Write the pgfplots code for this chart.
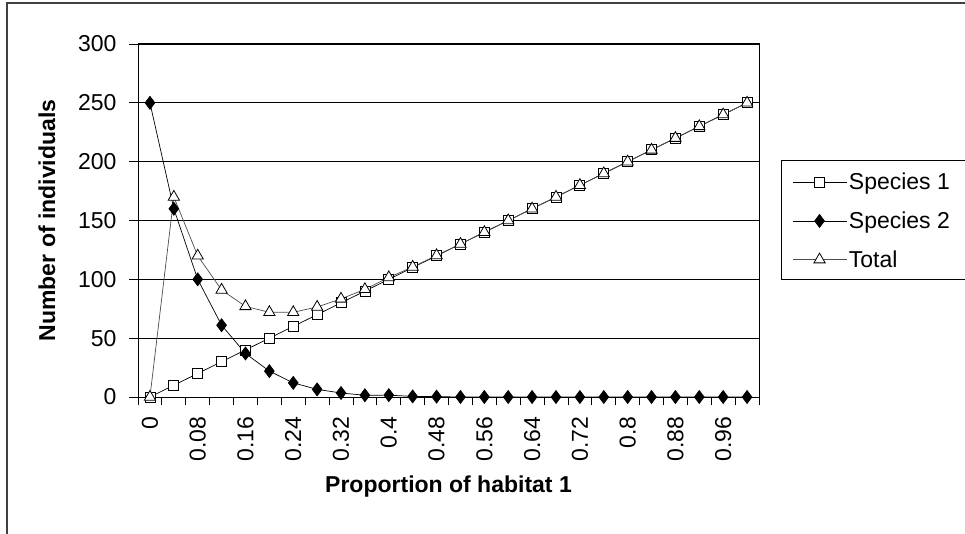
\documentclass[border=0pt]{standalone}
\usepackage{pgfplots}
\usepackage{pgfplotstable}
\pgfplotsset{compat=1.18}
\usepackage{fontspec}
\setmainfont{Liberation Sans}

\pgfplotstableread{
i s1 s2 tot
0 0 250 0
1 10 160 170
2 20 100 120
3 30 61 91
4 40 37 77
5 50 22 72
6 60 12 72
7 70 6.5 76.5
8 80 3.4 83.4
9 90 1.5 91.5
10 100 1.6 101.6
11 110 0.5 110.5
12 120 0.3 120.3
13 130 0 130
14 140 0 140
15 150 0 150
16 160 0 160
17 170 0 170
18 180 0 180
19 190 0 190
20 200 0 200
21 210 0 210
22 220 0 220
23 230 0 230
24 240 0 240
25 250 0 250
}\data

\begin{document}
\begin{tikzpicture}[x=1pt,y=1pt]
\begin{axis}[
  scale only axis, width=621pt, height=353pt,
  at={(138pt,136pt)}, anchor=south west,
  font=\fontsize{23}{27}\selectfont,
  xmin=-0.5, xmax=25.5, ymin=0, ymax=300,
  xtick={0,2,...,24},
  xticklabels={0,0.08,0.16,0.24,0.32,0.4,0.48,0.56,0.64,0.72,0.8,0.88,0.96},
  minor xtick={-0.5,0.5,...,25.5},
  ytick={0,50,...,300},
  tick align=outside, major tick length=9pt, minor tick length=8pt,
  major x tick style={draw=none},
  xtick pos=bottom, ytick pos=left,
  tick style={black, line width=0.8pt},
  ymajorgrids, grid style={black, line width=0.8pt},
  axis line style={black, line width=1pt},
  xticklabel style={rotate=90, anchor=east, font=\fontsize{23}{27}\selectfont},
  yticklabel style={font=\fontsize{23}{27}\selectfont},
  xticklabel shift=7pt, yticklabel shift=9pt,
  /pgf/number format/assume math mode=true,
  xlabel={Proportion of habitat 1},
  ylabel={Number of individuals},
  xlabel style={font=\bfseries\fontsize{23}{27}\selectfont, at={(axis description cs:0.5,-0.255)}, anchor=center},
  ylabel style={font=\bfseries\fontsize{23}{27}\selectfont, at={(axis description cs:-0.1465,0.5)}, anchor=center},
  legend style={at={(rel axis cs:1,1)}, anchor=north west, xshift=33pt, yshift=-127pt,
    draw=none, fill=none, inner sep=0pt, row sep=16.5pt,
    font=\fontsize{23}{27}\selectfont,
    nodes={inner sep=2pt, anchor=west}},
  legend cell align=left,
  legend image code/.code={\draw[mark repeat=2,mark phase=2,#1] plot coordinates {(0pt,0pt) (27pt,0pt) (54pt,0pt)};},
]
\addplot[black, line width=0.7pt, mark=square*, mark size=5pt, mark options={fill=white, draw=black, line width=0.8pt}] table[x=i, y=s1] {\data};
\addlegendentry{Species 1}
\addplot[black, line width=0.7pt, mark=diamond*, mark size=6.5pt, mark options={fill=black, draw=black}] table[x=i, y=s2] {\data};
\addlegendentry{Species 2}
\addplot[black!70, line width=0.7pt, mark=triangle*, mark size=6.5pt, mark options={fill=white, draw=black, line width=0.8pt}] table[x=i, y=tot] {\data};
\addlegendentry{Total}
\end{axis}
\path (0pt,0pt) rectangle (965pt,533pt);
\draw[overlay,black!75,line width=1.5pt] (7pt,-5pt) -- (7pt,530pt) -- (975pt,530pt);
\draw[overlay,black,line width=1pt] (975pt,372pt) -- (781pt,372pt) -- (781pt,253pt) -- (975pt,253pt);
\end{tikzpicture}
\end{document}
